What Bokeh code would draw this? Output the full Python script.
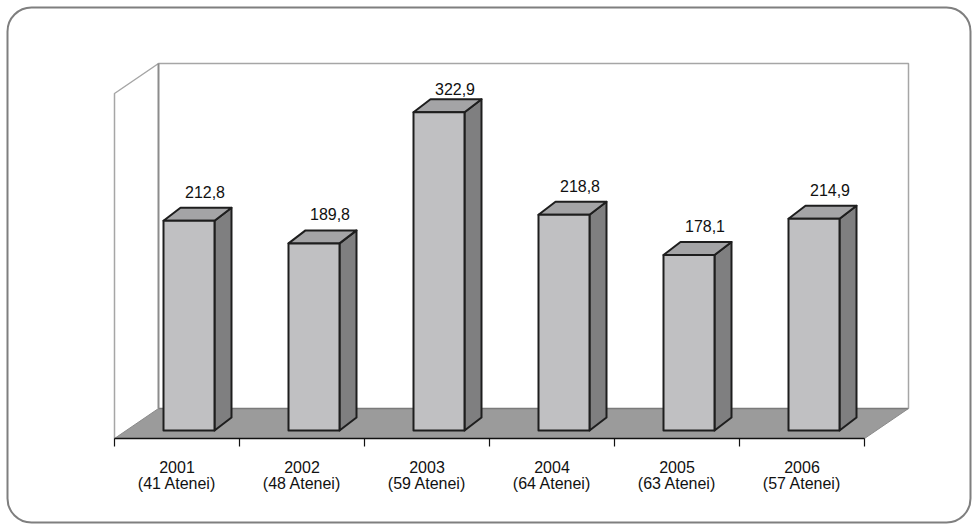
from bokeh.plotting import figure
from bokeh.models import Range1d
from bokeh.core.properties import value
from bokeh.embed import file_html
from bokeh.resources import INLINE

# --- data -------------------------------------------------------------
years = ["2001", "2002", "2003", "2004", "2005", "2006"]
atenei = ["(41 Atenei)", "(48 Atenei)", "(59 Atenei)", "(64 Atenei)", "(63 Atenei)", "(57 Atenei)"]
values = [212.8, 189.8, 322.9, 218.8, 178.1, 214.9]
axis_max = 350

# --- layout constants (pixels) ------------------------------------------
W, H = 978, 530
X0_PX = 114          # left end of the category axis
SLOT_PX = 125        # width of one category slot
Y0_PX = 438          # pixel row of value 0 on the front plane
K = 345 / axis_max   # pixels per value unit

def px_x(px):
    return (px - X0_PX) / SLOT_PX

def px_y(py):
    return (Y0_PX - py) / K

# 3D depth of the floor, in data units
DEPTH_X = 44 / SLOT_PX
DEPTH_Y = 30 / K
# bar placement inside the depth
BAR_W = 51 / SLOT_PX
BAR_OX = 12 / SLOT_PX
BAR_BASE = 8 / K
BAR_DX = 17 / SLOT_PX
BAR_DY = 13 / K

n = len(values)

p = figure(width=W, height=H, output_backend="svg", toolbar_location=None,
           x_range=Range1d(px_x(0), px_x(W)), y_range=Range1d(px_y(H), px_y(0)),
           min_border=0, border_fill_color="white", background_fill_color="white")
p.axis.visible = False
p.grid.visible = False
p.outline_line_color = None

FONT = value("Liberation Sans")
FSIZE = "16px"

# rounded frame around the whole chart
p.rect(x=[px_x((7 + 970) / 2)], y=[px_y((7 + 522) / 2)],
       width=[963], height=[515], width_units="screen", height_units="screen",
       fill_color=None, line_color="#7f7f7f", line_width=2, border_radius=24)

# floor
p.patch([0, n, n + DEPTH_X, DEPTH_X], [0, 0, DEPTH_Y, DEPTH_Y],
        fill_color="#9b9b9b", line_color="#8a8a8a", line_width=1)
p.line([DEPTH_X, n + DEPTH_X], [DEPTH_Y, DEPTH_Y], line_color="#7a7a7a", line_width=1.5)

# walls
wall_top = axis_max + DEPTH_Y
p.line([0, 0, DEPTH_X, n + DEPTH_X, n + DEPTH_X],
       [0, axis_max, wall_top, wall_top, DEPTH_Y],
       line_color="#a6a6a6", line_width=1.5)
p.line([DEPTH_X, DEPTH_X], [DEPTH_Y, wall_top], line_color="#8c8c8c", line_width=2)

# 3D bars
for i, v in enumerate(values):
    cx = i + 0.5 + BAR_OX
    left, right = cx - BAR_W / 2, cx + BAR_W / 2
    bottom, top = BAR_BASE, BAR_BASE + v
    # side face
    p.patch([right, right + BAR_DX, right + BAR_DX, right],
            [bottom, bottom + BAR_DY, top + BAR_DY, top],
            fill_color="#7f7f80", line_color="#1e1e1e", line_width=2, line_join="round")
    # top face
    p.patch([left, right, right + BAR_DX, left + BAR_DX],
            [top, top, top + BAR_DY, top + BAR_DY],
            fill_color="#a4a4a6", line_color="#1e1e1e", line_width=2, line_join="round")
    # front face
    p.quad(left=[left], right=[right], bottom=[bottom], top=[top],
           fill_color="#c0c0c2", line_color="#1e1e1e", line_width=2, line_join="round")

# value labels
label_cap = px_y(88)
lab_x = [i + 0.5 + BAR_OX + 16 / SLOT_PX for i in range(n)]
lab_y = [min(BAR_BASE + v + BAR_DY + 16 / K, label_cap) for v in values]
lab_t = [f"{v:.1f}".replace(".", ",") for v in values]
p.text(x=lab_x, y=lab_y, text=lab_t, text_font=FONT, text_font_size=FSIZE,
       text_color="#111111", text_align="center", text_baseline="alphabetic")

# category axis
p.line([0, n], [0, 0], line_color="#111111", line_width=1.5)
p.segment(x0=list(range(n + 1)), y0=[0] * (n + 1),
          x1=list(range(n + 1)), y1=[-8 / K] * (n + 1),
          line_color="#111111", line_width=1.2)

cat_x = [i + 0.5 for i in range(n)]
p.text(x=cat_x, y=[px_y(466)] * n, text=years, text_font=FONT, text_font_size=FSIZE,
       text_color="#111111", text_align="center", text_baseline="alphabetic")
p.text(x=cat_x, y=[px_y(483)] * n, text=atenei, text_font=FONT, text_font_size=FSIZE,
       text_color="#111111", text_align="center", text_baseline="alphabetic")

open("out.html", "w").write(file_html(p, INLINE))
